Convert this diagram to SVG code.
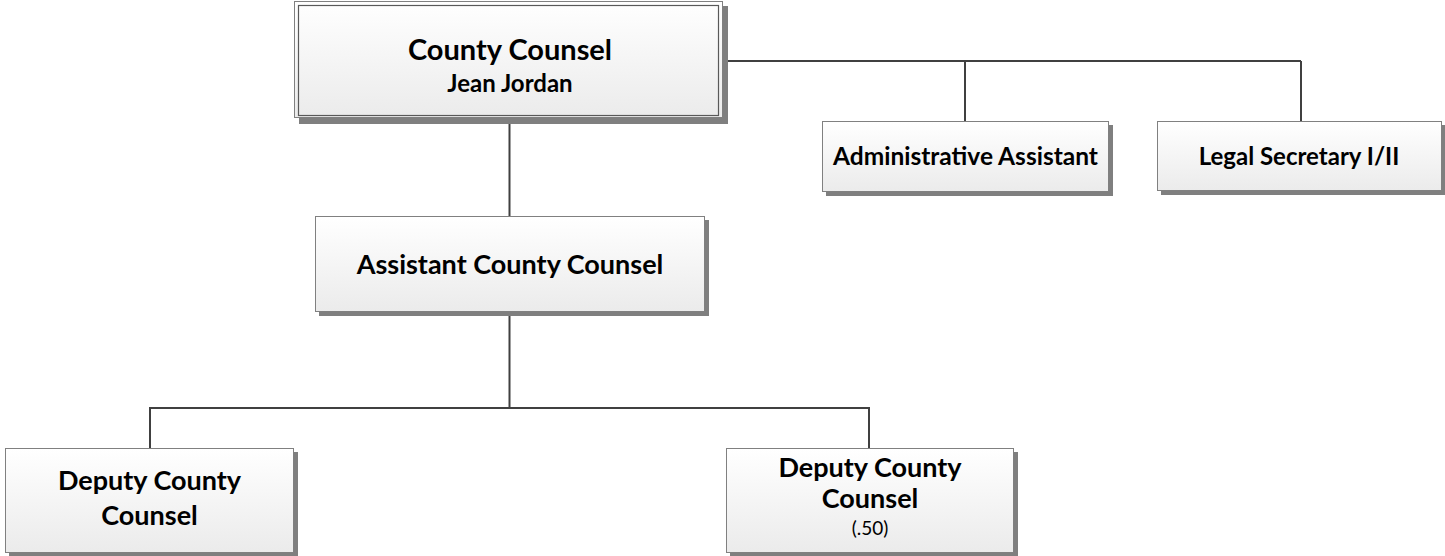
<svg xmlns="http://www.w3.org/2000/svg" width="1445" height="556" viewBox="0 0 1445 556">
<defs>
<linearGradient id="g" x1="0" y1="0" x2="0" y2="1">
<stop offset="0" stop-color="#ffffff"/>
<stop offset="1" stop-color="#ebebeb"/>
</linearGradient>
<style>
.sh{fill:#7f7f7f}
.bx{fill:url(#g);stroke:#808080;stroke-width:1}
.in{fill:none;stroke:#595959;stroke-width:1.2}
.t{font-family:Lato,"Open Sans","Liberation Sans",sans-serif;font-weight:bold;fill:#000;text-anchor:middle}
.n{font-family:Lato,"Open Sans","Liberation Sans",sans-serif;font-weight:normal;fill:#000;text-anchor:middle}
.c{fill:none;stroke:#404040;stroke-width:2}
</style>
</defs>
<rect width="1445" height="556" fill="#fff"/>
<g id="connectors">
<path class="c" d="M723 61H1301M965 61V121M1301 61V121"/>
<path class="c" d="M509.5 124V216"/>
<path class="c" d="M509.5 311V408M150 408H869M150 407V448M869 407V448"/>
</g>
<g id="county-counsel">
<rect class="sh" x="299" y="6" width="429" height="118"/>
<rect class="bx" x="294.5" y="1.5" width="428" height="116"/>
<rect class="in" x="298.5" y="5.5" width="420" height="110"/>
<text class="t" x="510" y="60" font-size="29">County Counsel</text>
<text class="t" x="510" y="92" font-size="24">Jean Jordan</text>
</g>
<g id="admin-assistant">
<rect class="sh" x="826" y="125" width="287" height="71"/>
<rect class="bx" x="822.5" y="121.5" width="286" height="70"/>
<text class="t" x="965.5" y="165" font-size="24.5">Administrative Assistant</text>
</g>
<g id="legal-secretary">
<rect class="sh" x="1161" y="125" width="284" height="70"/>
<rect class="bx" x="1157.5" y="121.5" width="284" height="69"/>
<text class="t" x="1299" y="165" font-size="24">Legal Secretary I/II</text>
</g>
<g id="assistant-county-counsel">
<rect class="sh" x="319" y="220" width="390" height="96"/>
<rect class="bx" x="315.5" y="216.5" width="389" height="95"/>
<text class="t" x="510" y="274" font-size="27">Assistant County Counsel</text>
</g>
<g id="deputy-1">
<rect class="sh" x="9" y="452" width="289" height="104"/>
<rect class="bx" x="5.5" y="448.5" width="288" height="104"/>
<text class="t" x="149.5" y="490" font-size="27">Deputy County</text>
<text class="t" x="149.5" y="525" font-size="27">Counsel</text>
</g>
<g id="deputy-2">
<rect class="sh" x="730" y="452" width="288" height="104"/>
<rect class="bx" x="726.5" y="448.5" width="287" height="104"/>
<text class="t" x="870" y="477" font-size="27">Deputy County</text>
<text class="t" x="870" y="508" font-size="27">Counsel</text>
<text class="n" x="870" y="535" font-size="19">(.50)</text>
</g>
</svg>
